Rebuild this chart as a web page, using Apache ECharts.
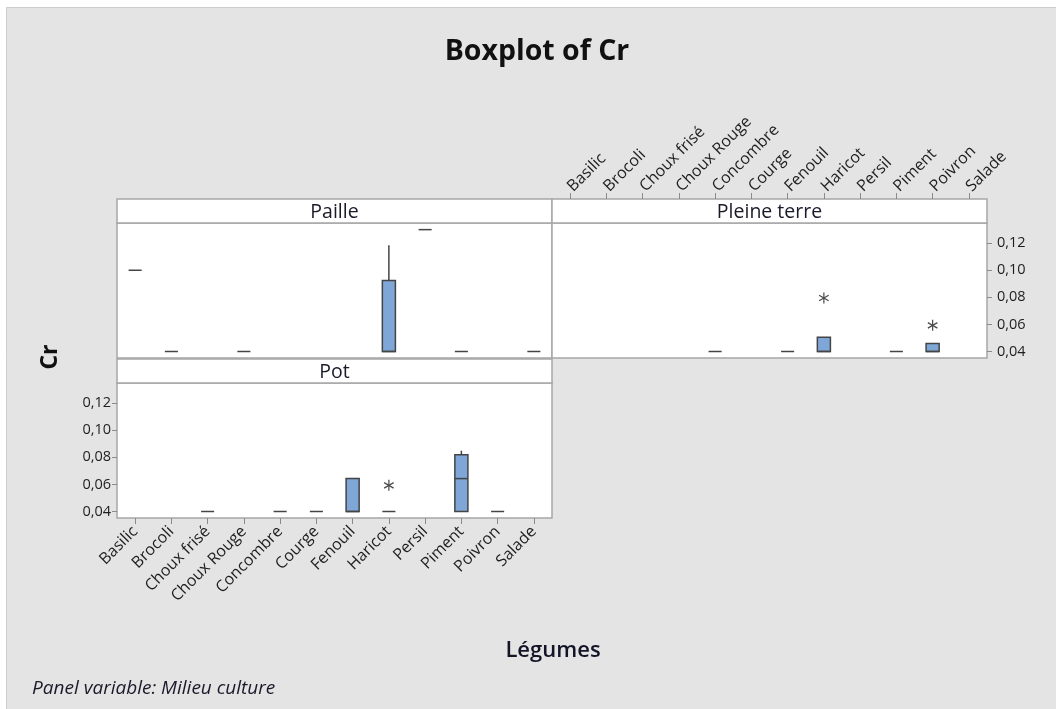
<!DOCTYPE html>
<html>
<head>
<meta charset="utf-8">
<script src="https://cdn.jsdelivr.net/npm/echarts@6/dist/echarts.min.js"></script>
<style>
html,body{margin:0;padding:0;background:#ffffff;}
#c{width:1056px;height:709px;}
</style>
</head>
<body>
<div id="c"></div>
<script>
// ---------- data ----------
const categories = ['Basilic','Brocoli','Choux frisé','Choux Rouge','Concombre','Courge','Fenouil','Haricot','Persil','Piment','Poivron','Salade'];
const yTickValues = [0.04, 0.06, 0.08, 0.10, 0.12];
const panelNames = ['Paille', 'Pleine terre', 'Pot'];

// Paille
const pailleMin = [0.100, 0.040, null, 0.040, null, null, null, 0.040, 0.130, 0.040, null, 0.040];
const pailleQ1  = [0.100, 0.040, null, 0.040, null, null, null, 0.040, 0.130, 0.040, null, 0.040];
const pailleMed = [0.100, 0.040, null, 0.040, null, null, null, 0.040, 0.130, 0.040, null, 0.040];
const pailleQ3  = [0.100, 0.040, null, 0.040, null, null, null, 0.0925, 0.130, 0.040, null, 0.040];
const pailleMax = [0.100, 0.040, null, 0.040, null, null, null, 0.1185, 0.130, 0.040, null, 0.040];
const pailleOutliers = [];

// Pleine terre
const pleineMin = [null, null, null, null, 0.040, null, 0.040, 0.040, null, 0.040, 0.040, null];
const pleineQ1  = [null, null, null, null, 0.040, null, 0.040, 0.040, null, 0.040, 0.040, null];
const pleineMed = [null, null, null, null, 0.040, null, 0.040, 0.040, null, 0.040, 0.040, null];
const pleineQ3  = [null, null, null, null, 0.040, null, 0.040, 0.0505, null, 0.040, 0.046, null];
const pleineMax = [null, null, null, null, 0.040, null, 0.040, 0.0505, null, 0.040, 0.046, null];
const pleineOutliers = [['Haricot', 0.0795], ['Poivron', 0.0593]];

// Pot
const potMin = [null, null, 0.040, null, 0.040, 0.040, 0.040, 0.040, null, 0.040, 0.040, null];
const potQ1  = [null, null, 0.040, null, 0.040, 0.040, 0.040, 0.040, null, 0.040, 0.040, null];
const potMed = [null, null, 0.040, null, 0.040, 0.040, 0.040, 0.040, null, 0.0643, 0.040, null];
const potQ3  = [null, null, 0.040, null, 0.040, 0.040, 0.0643, 0.040, null, 0.0819, 0.040, null];
const potMax = [null, null, 0.040, null, 0.040, 0.040, 0.0643, 0.040, null, 0.0849, 0.040, null];
const potOutliers = [['Haricot', 0.0593]];

// ---------- helpers ----------
function boxData(mn, q1, md, q3, mx) {
  const out = [];
  for (let i = 0; i < categories.length; i++) {
    if (md[i] === null) continue;
    out.push([i, mn[i], q1[i], md[i], q3[i], mx[i]]);
  }
  return out;
}
function outData(list) {
  return list.map(o => [categories.indexOf(o[0]), o[1]]);
}

const BOX_FILL = '#7ea7d8';
const BOX_EDGE = '#444444';

function renderBox(params, api) {
  const x = api.value(0);
  const vMin = api.value(1), vQ1 = api.value(2), vMed = api.value(3), vQ3 = api.value(4), vMax = api.value(5);
  const cx = api.coord([x, vMed])[0];
  const bw = api.size([1, 0])[0] * 0.36;
  const yMin = api.coord([x, vMin])[1];
  const yQ1 = api.coord([x, vQ1])[1];
  const yMed = api.coord([x, vMed])[1];
  const yQ3 = api.coord([x, vQ3])[1];
  const yMax = api.coord([x, vMax])[1];
  const lineStyle = { stroke: BOX_EDGE, lineWidth: 1.5 };
  const children = [];
  if (vMax > vQ3) {
    children.push({ type: 'line', shape: { x1: cx, y1: yQ3, x2: cx, y2: yMax }, style: lineStyle });
  }
  if (vMin < vQ1) {
    children.push({ type: 'line', shape: { x1: cx, y1: yQ1, x2: cx, y2: yMin }, style: lineStyle });
  }
  if (vQ3 > vQ1) {
    children.push({ type: 'rect', shape: { x: cx - bw / 2, y: yQ3, width: bw, height: yQ1 - yQ3 },
      style: { fill: BOX_FILL, stroke: BOX_EDGE, lineWidth: 1.5 } });
    children.push({ type: 'line', shape: { x1: cx - bw / 2, y1: yMed, x2: cx + bw / 2, y2: yMed }, style: lineStyle });
  } else {
    children.push({ type: 'line', shape: { x1: cx - bw / 2, y1: yMed, x2: cx + bw / 2, y2: yMed }, style: lineStyle });
  }
  return { type: 'group', children: children };
}

function renderStar(params, api) {
  const p = api.coord([api.value(0), api.value(1)]);
  const r = 5.5;
  const st = { stroke: '#4a4a4a', lineWidth: 1.2 };
  const dx = r * Math.cos(Math.PI / 6), dy = r * Math.sin(Math.PI / 6);
  return { type: 'group', children: [
    { type: 'line', shape: { x1: p[0], y1: p[1] - r, x2: p[0], y2: p[1] + r }, style: st },
    { type: 'line', shape: { x1: p[0] - dx, y1: p[1] - dy, x2: p[0] + dx, y2: p[1] + dy }, style: st },
    { type: 'line', shape: { x1: p[0] - dx, y1: p[1] + dy, x2: p[0] + dx, y2: p[1] - dy }, style: st }
  ]};
}

// ---------- layout ----------
const TICK_FONT = '"Open Sans", "Noto Sans", sans-serif';
const TEXT_FONT = '"Open Sans", "Noto Sans", sans-serif';
const PW = 435, PH = 135, STRIP = 24;
const grids = [
  { left: 117, top: 223, width: PW, height: PH },
  { left: 552, top: 223, width: PW, height: PH },
  { left: 117, top: 383, width: PW, height: PH }
];
const yMinV = 0.0352, yMaxV = 0.1349;

const labelColor = '#1e1e1e';
const fmtY = v => v.toFixed(2).replace('.', ',');

function xAxisFor(i) {
  const base = {
    type: 'category', gridIndex: i, data: categories, boundaryGap: true,
    axisLine: { show: false }, splitLine: { show: false },
    axisTick: { show: false }, axisLabel: { show: false }
  };
  if (i === 1) {
    base.position = 'top';
    base.offset = STRIP;
    base.axisTick = { show: true, alignWithLabel: true, length: 6, inside: false, lineStyle: { color: '#8a8a8a', width: 1 } };
    base.axisLabel = { show: true, rotate: -45, margin: 10, interval: 0, color: labelColor, fontFamily: TICK_FONT, fontSize: 16 };
  }
  if (i === 2) {
    base.position = 'bottom';
    base.axisTick = { show: true, alignWithLabel: true, length: 6, inside: false, lineStyle: { color: '#8a8a8a', width: 1 } };
    base.axisLabel = { show: true, rotate: 45, margin: 11, interval: 0, color: labelColor, fontFamily: TICK_FONT, fontSize: 16 };
  }
  return base;
}
function yAxisFor(i) {
  const base = {
    type: 'value', gridIndex: i, min: yMinV, max: yMaxV,
    axisLine: { show: false }, splitLine: { show: false },
    axisTick: { show: false }, axisLabel: { show: false }
  };
  if (i === 1 || i === 2) {
    base.position = i === 1 ? 'right' : 'left';
    base.axisTick = { show: true, length: 5, customValues: yTickValues, lineStyle: { color: '#8a8a8a', width: 1 } };
    base.axisLabel = { show: true, customValues: yTickValues, formatter: fmtY, margin: i === 1 ? 10 : 6,
      color: labelColor, fontFamily: TICK_FONT, fontSize: 14.5 };
  }
  return base;
}

const boxSets = [
  boxData(pailleMin, pailleQ1, pailleMed, pailleQ3, pailleMax),
  boxData(pleineMin, pleineQ1, pleineMed, pleineQ3, pleineMax),
  boxData(potMin, potQ1, potMed, potQ3, potMax)
];
const outSets = [outData(pailleOutliers), outData(pleineOutliers), outData(potOutliers)];

const series = [];
for (let i = 0; i < 3; i++) {
  series.push({ type: 'custom', xAxisIndex: i, yAxisIndex: i, renderItem: renderBox,
    encode: { x: 0, y: [1, 2, 3, 4, 5] }, data: boxSets[i], clip: true, silent: true });
  series.push({ type: 'custom', xAxisIndex: i, yAxisIndex: i, renderItem: renderStar,
    encode: { x: 0, y: 1 }, data: outSets[i], clip: true, silent: true });
}

// strips
const strips = [
  { x: 117, y: 199, name: panelNames[0] },
  { x: 552, y: 199, name: panelNames[1] },
  { x: 117, y: 359, name: panelNames[2] }
];
const graphics = [
  { type: 'rect', z: -10, shape: { x: 6.5, y: 7.5, width: 1100, height: 720 },
    style: { fill: '#e4e4e4', stroke: '#cdcdcd', lineWidth: 1 }, silent: true }
];
strips.forEach(s => {
  graphics.push({ type: 'rect', shape: { x: s.x, y: s.y, width: PW, height: STRIP },
    style: { fill: '#ffffff', stroke: '#a6a6a6', lineWidth: 1.5 }, silent: true });
  graphics.push({ type: 'text', x: s.x + PW / 2, y: s.y + STRIP / 2 + 1,
    style: { text: s.name, font: '19.5px ' + TEXT_FONT, fill: '#1a1a2a', align: 'center', verticalAlign: 'middle' }, silent: true });
});
graphics.push({ type: 'text', x: 537, y: 52, style: { text: 'Boxplot of Cr', font: 'bold 28.5px ' + TEXT_FONT,
  fill: '#111111', align: 'center', verticalAlign: 'middle' }, silent: true });
graphics.push({ type: 'text', x: 50, y: 357, rotation: Math.PI / 2,
  style: { text: 'Cr', font: 'bold 23px ' + TEXT_FONT, fill: '#111111', align: 'center', verticalAlign: 'middle' }, silent: true });
graphics.push({ type: 'text', x: 553, y: 651, style: { text: 'Légumes', font: '600 22px ' + TEXT_FONT,
  fill: '#141428', align: 'center', verticalAlign: 'middle' }, silent: true });
graphics.push({ type: 'text', x: 32, y: 689, style: { text: 'Panel variable: Milieu culture', font: 'italic 19px ' + TEXT_FONT,
  fill: '#1a1a2a', align: 'left', verticalAlign: 'middle' }, silent: true });

const chart = echarts.init(document.getElementById('c'), null, { renderer: 'canvas' });
chart.setOption({
  animation: false,
  backgroundColor: '#ffffff',
  grid: grids.map(g => Object.assign({ show: true, backgroundColor: '#ffffff', borderColor: '#a6a6a6', borderWidth: 1.5,
    containLabel: false, outerBoundsMode: 'none' }, g)),
  xAxis: [0, 1, 2].map(xAxisFor),
  yAxis: [0, 1, 2].map(yAxisFor),
  graphic: graphics,
  series: series
});
</script>
</body>
</html>
